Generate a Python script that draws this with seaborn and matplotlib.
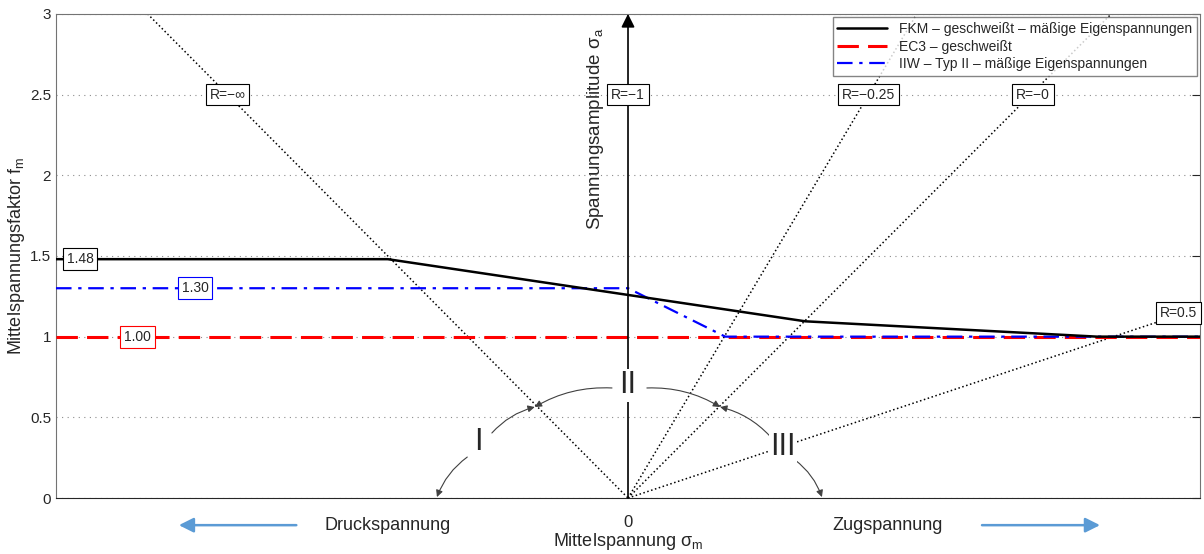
import matplotlib
matplotlib.use("Agg")
import matplotlib.pyplot as plt
import seaborn as sns

# Data (x: normalised mean stress, -1 .. 1)
fkm_x = [-1.0, -0.42, 0.31, 0.82, 1.0]
fkm_y = [1.48, 1.48, 1.095, 1.0, 1.0]
ec3_x = [-1.0, 1.0]
ec3_y = [1.0, 1.0]
iiw_x = [-1.0, 0.0, 0.17, 1.0]
iiw_y = [1.30, 1.30, 1.0, 1.0]

# R-lines: end point of each ray from the origin, and where the label sits
r_names = ["R=−∞", "R=−1", "R=−0.25", "R=−0", "R=0.5"]
r_end_x = [-0.84, 0.0, 0.505, 0.845, 0.925]
r_end_y = [3.0, 3.0, 3.0, 3.0, 1.09]
r_lab_x = [-0.70, 0.0, 0.42, 0.708, 0.963]
r_lab_y = [2.5, 2.5, 2.5, 2.5, 1.147]

# value boxes on the left
val_text = ["1.48", "1.30", "1.00"]
val_x = [-0.958, -0.757, -0.857]
val_y = [1.48, 1.30, 1.0]
val_col = ["black", "blue", "red"]

# regions I, II, III and the arrows of the arc
reg_text = ["I", "II", "III"]
reg_x = [-0.262, 0.0, 0.271]
reg_y = [0.347, 0.70, 0.316]
arc_start = [(-0.238, 0.403), (-0.281, 0.254), (-0.028, 0.682),
             (0.033, 0.682), (0.248, 0.384), (0.292, 0.236)]
arc_end = [(-0.163, 0.564), (-0.334, 0.006), (-0.163, 0.564),
           (0.161, 0.564), (0.161, 0.564), (0.339, 0.006)]
arc_rad = [-0.15, 0.15, 0.15, -0.15, 0.15, -0.15]

sns.set_style("white")
plt.rcParams["font.family"] = ["Liberation Sans", "DejaVu Sans"]

fig = plt.figure(figsize=(12.04, 5.54), dpi=100)
ax = fig.add_axes([0.0465, 0.101, 0.9502, 0.874])

# R-lines (dotted rays)
for i in range(len(r_names)):
    if r_end_x[i] != 0.0:
        sns.lineplot(x=[0.0, r_end_x[i]], y=[0.0, r_end_y[i]], ax=ax,
                     color="black", linestyle=":", lw=1.1)
    ax.text(r_lab_x[i], r_lab_y[i], r_names[i], ha="center", va="center",
            fontsize=10, zorder=6,
            bbox=dict(boxstyle="square,pad=0.28", fc="white", ec="black", lw=0.8))

# vertical axis arrow (sigma_a)
ax.annotate("", xy=(0.0, 3.0), xytext=(0.0, 0.0),
            arrowprops=dict(arrowstyle="-|>", color="black", lw=1.2,
                            mutation_scale=20, shrinkA=0, shrinkB=0),
            annotation_clip=False, zorder=5)
ax.text(-0.057, 2.29, "Spannungsamplitude σ$_\\mathregular{a}$", rotation=90,
        ha="center", va="center", fontsize=13.5)

# curves
sns.lineplot(x=ec3_x, y=ec3_y, ax=ax, color="red", lw=2.2,
             linestyle=(0, (7, 3)), label="EC3 – geschweißt", zorder=3)
sns.lineplot(x=iiw_x, y=iiw_y, ax=ax, color="blue", lw=1.6,
             linestyle=(0, (7, 3, 1.5, 3)),
             label="IIW – Typ II – mäßige Eigenspannungen", zorder=4)
sns.lineplot(x=fkm_x, y=fkm_y, ax=ax, color="black", lw=1.8,
             label="FKM – geschweißt – mäßige Eigenspannungen", zorder=4)

for t, x, y, c in zip(val_text, val_x, val_y, val_col):
    ax.text(x, y, t, ha="center", va="center", fontsize=10, zorder=6,
            bbox=dict(boxstyle="square,pad=0.28", fc="white", ec=c, lw=0.8))

# arcs with arrows and region labels
for s, e, r in zip(arc_start, arc_end, arc_rad):
    ax.annotate("", xy=e, xytext=s,
                arrowprops=dict(arrowstyle="-|>", color="0.25", lw=0.8,
                                mutation_scale=10, shrinkA=0, shrinkB=0,
                                connectionstyle=f"arc3,rad={r}"), zorder=5)
for t, x, y in zip(reg_text, reg_x, reg_y):
    ax.text(x, y, t, ha="center", va="center", fontsize=22, color="0.15",
            zorder=6, bbox=dict(boxstyle="square,pad=0.05", fc="white", ec="none"))

ax.set_xlim(-1, 1)
ax.set_ylim(0, 3)
ax.set_yticks([0, 0.5, 1, 1.5, 2, 2.5, 3])
ax.set_yticklabels(["0", "0.5", "1", "1.5", "2", "2.5", "3"])
ax.set_xticks([0])
ax.set_xticklabels(["0"])
ax.tick_params(axis="x", length=0, pad=12, labelsize=12)
ax.tick_params(axis="y", direction="in", length=6, labelsize=11, right=True)
ax.yaxis.grid(True, linestyle=(0, (1, 4)), color="0.55", lw=0.8)
ax.set_axisbelow(True)
for side in ["left", "top", "right"]:
    ax.spines[side].set_color("0.45")
ax.spines["bottom"].set_color("0.15")

ax.set_ylabel("Mittelspannungsfaktor f$_\\mathregular{m}$", fontsize=13, labelpad=2)
ax.set_xlabel("Mittelspannung σ$_\\mathregular{m}$", fontsize=13, labelpad=1)

# direction arrows below the axis
ax.annotate("", xy=(-0.79, -0.056), xytext=(-0.575, -0.056),
            xycoords=("data", "axes fraction"), textcoords=("data", "axes fraction"),
            arrowprops=dict(arrowstyle="-|>", color="#5b9bd5", lw=1.8, mutation_scale=22),
            annotation_clip=False)
ax.annotate("", xy=(0.83, -0.056), xytext=(0.614, -0.056),
            xycoords=("data", "axes fraction"), textcoords=("data", "axes fraction"),
            arrowprops=dict(arrowstyle="-|>", color="#5b9bd5", lw=1.8, mutation_scale=22),
            annotation_clip=False)
ax.text(-0.421, -0.056, "Druckspannung", transform=ax.get_xaxis_transform(),
        ha="center", va="center", fontsize=13)
ax.text(0.453, -0.056, "Zugspannung", transform=ax.get_xaxis_transform(),
        ha="center", va="center", fontsize=13)

handles, labels = ax.get_legend_handles_labels()
order = [2, 0, 1]
ax.legend([handles[i] for i in order], [labels[i] for i in order],
          loc="upper right", fontsize=10, frameon=True, fancybox=False,
          edgecolor="0.4", handlelength=3.6, borderaxespad=0.25,
          labelspacing=0.25, borderpad=0.35)

fig.savefig("out.png", dpi=100)
